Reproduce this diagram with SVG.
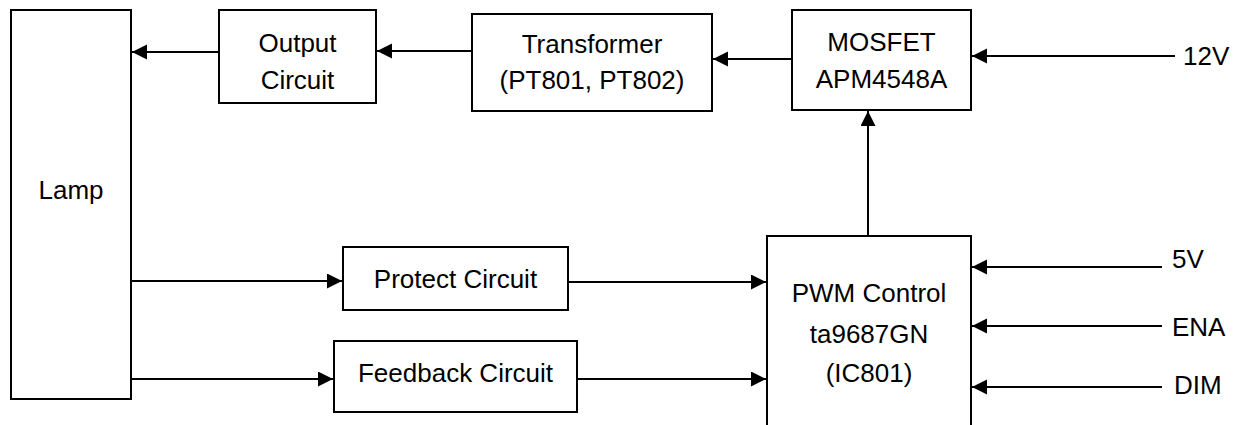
<svg xmlns="http://www.w3.org/2000/svg" width="1241" height="425" viewBox="0 0 1241 425">
  <style>
    .box { fill: #ffffff; stroke: #000000; stroke-width: 2; }
    .lbl { font-family: "Liberation Sans", Arial, sans-serif; font-size: 26px; fill: #000000; text-anchor: middle; }
    .sig { font-family: "Liberation Sans", Arial, sans-serif; font-size: 26px; fill: #000000; text-anchor: start; }
    .conn { stroke: #000000; stroke-width: 2; fill: none; marker-end: url(#arrow); }
  </style>
  <defs>
    <marker id="arrow" markerUnits="userSpaceOnUse" markerWidth="16" markerHeight="16" refX="15" refY="7.5" orient="auto">
      <path d="M0,0 L15,7.5 L0,15 Z" fill="#000000"/>
    </marker>
  </defs>
  <rect width="1241" height="425" fill="#ffffff"/>

  <g id="lamp">
    <rect class="box" x="11" y="10" width="120" height="389"/>
    <text class="lbl" x="71" y="199">Lamp</text>
  </g>
  <g id="output-circuit">
    <rect class="box" x="219" y="10" width="157" height="93"/>
    <text class="lbl" x="297.5" y="52">Output</text>
    <text class="lbl" x="297.5" y="89">Circuit</text>
  </g>
  <g id="transformer">
    <rect class="box" x="472" y="14" width="240" height="97"/>
    <text class="lbl" x="592" y="53">Transformer</text>
    <text class="lbl" x="592" y="89">(PT801, PT802)</text>
  </g>
  <g id="mosfet">
    <rect class="box" x="792" y="10" width="179" height="100"/>
    <text class="lbl" x="881.5" y="51">MOSFET</text>
    <text class="lbl" x="881.5" y="88">APM4548A</text>
  </g>
  <g id="protect-circuit">
    <rect class="box" x="343" y="247" width="225" height="63"/>
    <text class="lbl" x="455.5" y="288">Protect Circuit</text>
  </g>
  <g id="feedback-circuit">
    <rect class="box" x="334" y="341" width="243" height="71"/>
    <text class="lbl" x="455.5" y="382">Feedback Circuit</text>
  </g>
  <g id="pwm-control">
    <rect class="box" x="767" y="236" width="204" height="210"/>
    <text class="lbl" x="869" y="302">PWM Control</text>
    <text class="lbl" x="869" y="343">ta9687GN</text>
    <text class="lbl" x="869" y="382">(IC801)</text>
  </g>
  <g id="signal-labels">
    <text class="sig" x="1183" y="65">12V</text>
    <text class="sig" x="1172" y="268">5V</text>
    <text class="sig" x="1172" y="336">ENA</text>
    <text class="sig" x="1174" y="394">DIM</text>
  </g>

  <g id="connectors">
    <line class="conn" x1="219" y1="52" x2="132" y2="52"/>
    <line class="conn" x1="472" y1="51" x2="377" y2="51"/>
    <line class="conn" x1="792" y1="59" x2="713" y2="59"/>
    <line class="conn" x1="1175" y1="56" x2="972" y2="56"/>
    <line class="conn" x1="868" y1="236" x2="868" y2="111"/>
    <line class="conn" x1="131" y1="281" x2="342" y2="281"/>
    <line class="conn" x1="568" y1="282" x2="766" y2="282"/>
    <line class="conn" x1="131" y1="379" x2="333" y2="379"/>
    <line class="conn" x1="577" y1="379" x2="766" y2="379"/>
    <line class="conn" x1="1162" y1="267" x2="972" y2="267"/>
    <line class="conn" x1="1162" y1="326" x2="972" y2="326"/>
    <line class="conn" x1="1162" y1="387" x2="972" y2="387"/>
  </g>
</svg>
